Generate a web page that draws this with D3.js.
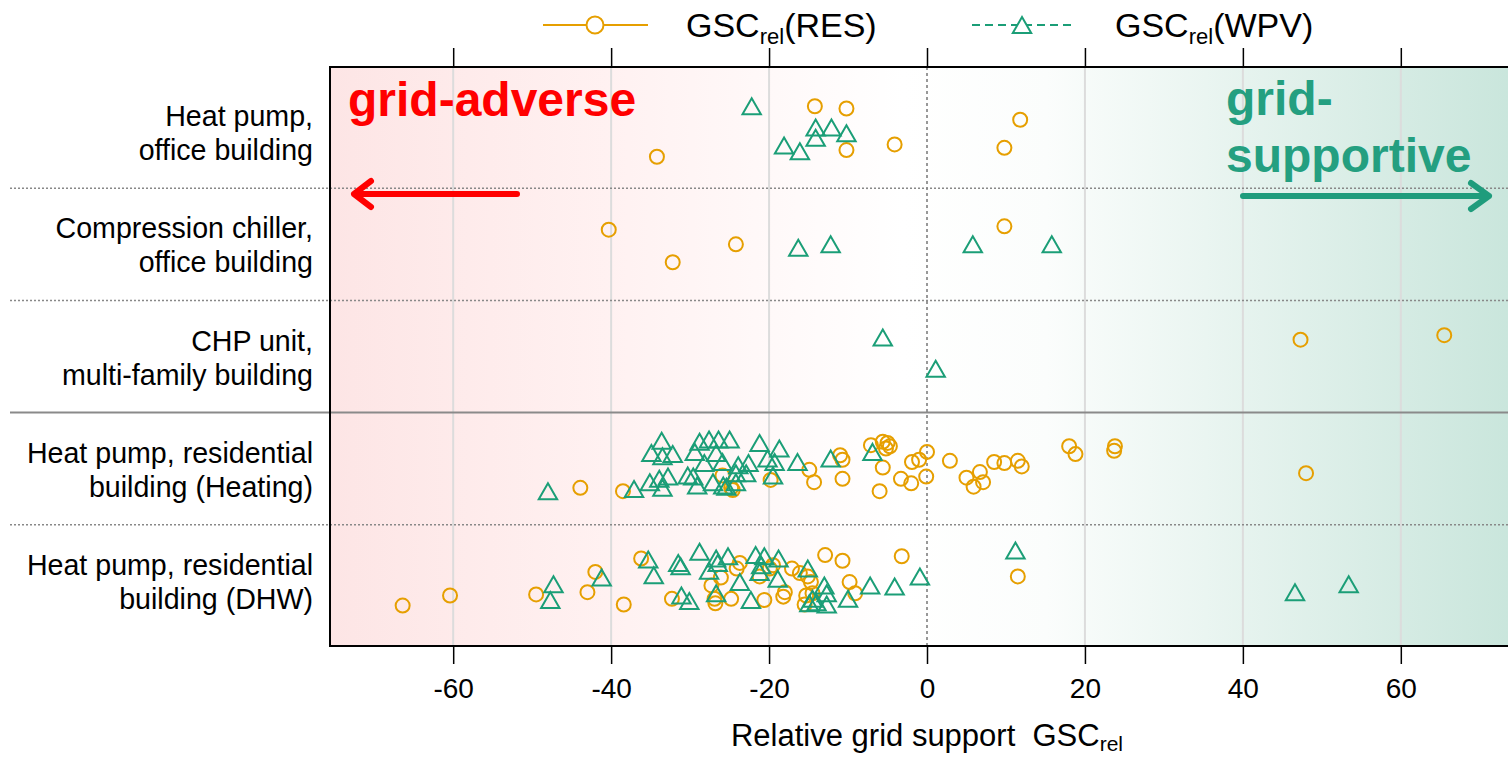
<!DOCTYPE html>
<html>
<head>
<meta charset="utf-8">
<script src="https://cdn.jsdelivr.net/npm/d3@7"></script>
<style>
  body { margin: 0; background: #fff; }
  svg text { font-family: "Liberation Sans", Arial, sans-serif; }
</style>
</head>
<body>
<div id="chart"></div>
<script>
var width = 1508,
    height = 758;

// categories, top to bottom
var categories = [
    ["Heat pump,", "office building"],
    ["Compression chiller,", "office building"],
    ["CHP unit,", "multi-family building"],
    ["Heat pump, residential", "building (Heating)"],
    ["Heat pump, residential", "building (DHW)"]
];

var xTicks = [-60, -40, -20, 0, 20, 40, 60];

// [GSC_rel value, vertical jitter within the row]
var hpOfficeRES = [[-14.2,-0.23],[-10.2,-0.21],[11.8,-0.11],[9.8,0.14],[-4.1,0.11],[-10.2,0.16],[-34.2,0.22]];
var hpOfficeWPV = [[-22.2,-0.23],[-14.1,-0.04],[-12.1,-0.04],[-10.2,0.01],[-14.1,0.05],[-18.1,0.12],[-16.1,0.17]];

var chillerRES = [[-40.3,-0.13],[-24.2,0],[-32.2,0.16],[9.8,-0.16]];
var chillerWPV = [[-16.3,0.03],[-12.2,0],[5.8,0],[15.8,0]];

var chpRES = [[47.3,-0.15],[65.5,-0.19]];
var chpWPV = [[-5.6,-0.17],[1.1,0.11]];

var hpHeatRES = [[-43.9,0.17],[-38.5,0.2],[-25.9,0.06],[-24.6,0.19],[-24.8,0.17],[-19.8,0.1],[-14.9,0.01],
    [-14.3,0.12],[-11.0,-0.12],[-10.7,-0.08],[-10.7,0.09],[-7.1,-0.21],[-5.6,-0.24],[-5.0,-0.23],[-4.7,-0.2],
    [-5.2,-0.18],[-5.6,-0.01],[-6.0,0.2],[-3.3,0.09],[-2.0,0.13],[-1.9,-0.06],[-1.0,-0.08],[0.0,-0.15],
    [-0.1,0.07],[2.9,-0.07],[5.0,0.08],[5.9,0.16],[6.7,0.03],[7.1,0.12],[8.5,-0.06],[9.8,-0.05],[11.5,-0.07],
    [12.0,-0.02],[18.0,-0.2],[18.8,-0.13],[23.8,-0.2],[23.7,-0.16],[48.0,0.04]];
var hpHeatWPV = [[-48.0,0.2],[-37.1,0.18],[-33.6,-0.25],[-34.9,-0.14],[-33.5,-0.11],[-32.2,-0.13],[-35.1,0.12],
    [-33.9,0.09],[-32.8,0.07],[-33.5,0.17],[-28.8,-0.24],[-27.6,-0.26],[-26.4,-0.26],[-25.0,-0.26],[-29.4,-0.15],
    [-26.7,-0.14],[-28.2,-0.05],[-25.9,-0.06],[-30.3,0.06],[-29.6,0.07],[-29.1,0.15],[-27.1,0.12],[-25.8,0.15],
    [-25.4,0.16],[-23.9,-0.03],[-22.6,-0.05],[-24.2,0.04],[-22.9,0.04],[-24.2,0.12],[-21.2,-0.23],[-18.7,-0.18],
    [-20.2,-0.09],[-19.3,-0.06],[-19.5,0.06],[-16.4,-0.06],[-12.2,-0.09],[-6.9,-0.15]];

var hpDhwRES = [[-66.4,0.22],[-60.4,0.13],[-49.5,0.12],[-43.0,0.1],[-42.0,-0.08],[-38.4,0.21],[-36.2,-0.2],
    [-32.3,0.16],[-23.7,-0.16],[-24.1,-0.11],[-26.1,-0.03],[-27.3,0.04],[-26.9,0.16],[-26.8,0.2],[-24.8,0.16],
    [-20.6,0.17],[-21.2,-0.04],[-19.9,-0.11],[-19.5,-0.14],[-17.1,-0.11],[-16.1,-0.07],[-15.1,-0.04],[-14.7,0.01],
    [-18.0,0.1],[-18.2,0.14],[-15.3,0.13],[-15.5,0.21],[-14.5,0.11],[-12.9,-0.23],[-10.7,-0.18],[-9.8,0.01],
    [-9.1,0.11],[-3.2,-0.22],[11.5,-0.04]];
var hpDhwWPV = [[-47.3,0.03],[-47.7,0.17],[-41.2,-0.03],[-35.3,-0.19],[-34.6,-0.05],[-31.5,-0.16],[-31.2,-0.13],
    [-28.8,-0.26],[-31.1,0.13],[-30.1,0.18],[-27.6,-0.09],[-26.7,-0.2],[-26.5,-0.16],[-25.2,-0.22],[-26.7,0.11],
    [-23.7,0.01],[-22.3,0.17],[-21.7,-0.23],[-20.6,-0.22],[-21.2,-0.08],[-21.0,-0.14],[-18.8,-0.2],[-18.9,-0.02],
    [-15.1,-0.11],[-13.0,0.04],[-12.7,0.11],[-14.5,0.16],[-14.0,0.19],[-12.7,0.21],[-14.9,0.2],[-10.0,0.16],
    [-7.2,0.04],[-4.1,0.05],[-0.9,-0.04],[11.2,-0.27],[46.6,0.1],[53.4,0.03]];

var resRows = [hpOfficeRES, chillerRES, chpRES, hpHeatRES, hpDhwRES];
var wpvRows = [hpOfficeWPV, chillerWPV, chpWPV, hpHeatWPV, hpDhwWPV];

var orange = "#e69f00",
    teal = "#1b9e77";

// note: "top" is taken by window.top, so use other names
var plotLeft = 330, plotTop = 67, plotBottom = 646;

var x = d3.scaleLinear().domain([-75.6, 75.6]).range([plotLeft, 1524]);
var y = d3.scaleLinear().domain([0.42, 5.58]).range([plotTop, plotBottom]);

var svg = d3.select("#chart").append("svg")
    .attr("width", width)
    .attr("height", height);

// background gradient: grid-adverse (red) -> grid-supportive (green)
var grad = svg.append("defs").append("linearGradient")
    .attr("id", "bg")
    .attr("x1", "0%").attr("x2", "100%").attr("y1", "0%").attr("y2", "0%");
grad.append("stop").attr("offset", "0%").attr("stop-color", "#fde5e5");
grad.append("stop").attr("offset", "25%").attr("stop-color", "#fff2f2");
grad.append("stop").attr("offset", "48%").attr("stop-color", "#ffffff");
grad.append("stop").attr("offset", "60%").attr("stop-color", "#fbfdfc");
grad.append("stop").attr("offset", "100%").attr("stop-color", "#c8e5db");

svg.append("rect")
    .attr("x", x.range()[0]).attr("y", plotTop)
    .attr("width", x.range()[1] - x.range()[0])
    .attr("height", plotBottom - plotTop)
    .attr("fill", "url(#bg)");

// vertical grid
svg.selectAll(".vgrid")
    .data(xTicks.filter(function(d) { return d !== 0; }))
    .enter().append("line")
    .attr("x1", x).attr("x2", x)
    .attr("y1", plotTop).attr("y2", plotBottom)
    .attr("stroke", "#dcdcdc").attr("stroke-width", 2);

svg.append("line")
    .attr("x1", x(0)).attr("x2", x(0))
    .attr("y1", plotTop).attr("y2", plotBottom)
    .attr("stroke", "#777").attr("stroke-width", 1.5)
    .attr("stroke-dasharray", "3,3");

// row separators
[1.5, 2.5, 4.5].forEach(function(v) {
    svg.append("line")
        .attr("x1", 10).attr("x2", width)
        .attr("y1", y(v)).attr("y2", y(v))
        .attr("stroke", "#888").attr("stroke-width", 1.5)
        .attr("stroke-dasharray", "2,2");
});
svg.append("line")
    .attr("x1", 10).attr("x2", width)
    .attr("y1", y(3.5)).attr("y2", y(3.5))
    .attr("stroke", "#8a8a8a").attr("stroke-width", 2);

// frame
svg.append("path")
    .attr("d", "M" + width + "," + plotTop + "H" + plotLeft + "V" + plotBottom + "H" + width)
    .attr("fill", "none").attr("stroke", "#000").attr("stroke-width", 2);

// axes
var xAxisBottom = d3.axisBottom(x).tickValues(xTicks).tickSize(18).tickPadding(14);
var gb = svg.append("g").attr("transform", "translate(0," + plotBottom + ")").call(xAxisBottom);
gb.select(".domain").remove();
gb.selectAll("line").attr("stroke", "#000").attr("stroke-width", 1.5);
gb.selectAll("text").attr("font-size", 28).attr("fill", "#000")
    .style("font-family", "'Liberation Sans', Arial, sans-serif")
    .text(function(d) { return d < 0 ? "-" + Math.abs(d) : d; });

var xAxisTop = d3.axisTop(x).tickValues(xTicks).tickSize(19).tickFormat("");
var gt = svg.append("g").attr("transform", "translate(0," + plotTop + ")").call(xAxisTop);
gt.select(".domain").remove();
gt.selectAll("line").attr("stroke", "#000").attr("stroke-width", 1.5);

// axis title
var title = svg.append("text")
    .attr("x", x(0)).attr("y", 746)
    .attr("text-anchor", "middle")
    .attr("font-size", 31);
title.append("tspan").text("Relative grid support\u00a0\u00a0GSC");
title.append("tspan").attr("font-size", 21).attr("dy", 5).text("rel");

// category labels
categories.forEach(function(c, i) {
    var t = svg.append("text")
        .attr("text-anchor", "end")
        .attr("font-size", 28.6);
    t.append("tspan").attr("x", 313).attr("y", y(i + 1) - 6).text(c[0]);
    t.append("tspan").attr("x", 313).attr("y", y(i + 1) + 28).text(c[1]);
});

// grid-adverse / grid-supportive annotations
svg.append("text")
    .attr("x", 348).attr("y", 116)
    .attr("font-size", 48).attr("font-weight", "bold")
    .attr("fill", "#ff0000")
    .text("grid-adverse");

var sup = svg.append("text")
    .attr("font-size", 48).attr("font-weight", "bold")
    .attr("fill", "#249f80");
sup.append("tspan").attr("x", 1226).attr("y", 115).text("grid-");
sup.append("tspan").attr("x", 1226).attr("y", 172).text("supportive");

svg.append("path")
    .attr("d", "M517,194H354M371,181L354,194L371,207")
    .attr("fill", "none").attr("stroke", "#ff0000")
    .attr("stroke-width", 6).attr("stroke-linecap", "round").attr("stroke-linejoin", "round");

svg.append("path")
    .attr("d", "M1243,196H1489M1471,183L1489,196L1471,209")
    .attr("fill", "none").attr("stroke", "#1f9c7c")
    .attr("stroke-width", 6).attr("stroke-linecap", "round").attr("stroke-linejoin", "round");

// points
var tri = "M0,-8L9.2,8L-9.2,8Z";

resRows.forEach(function(rows, i) {
    svg.append("g").selectAll("circle")
        .data(rows)
        .enter().append("circle")
        .attr("cx", function(d) { return x(d[0]); })
        .attr("cy", function(d) { return y(i + 1 + d[1]); })
        .attr("r", 7)
        .attr("fill", "none")
        .attr("stroke", orange)
        .attr("stroke-width", 2);
});

wpvRows.forEach(function(rows, i) {
    svg.append("g").selectAll("path")
        .data(rows)
        .enter().append("path")
        .attr("d", tri)
        .attr("transform", function(d) {
            return "translate(" + x(d[0]) + "," + y(i + 1 + d[1]) + ")";
        })
        .attr("fill", "none")
        .attr("stroke", teal)
        .attr("stroke-width", 2);
});

// legend
var lg = svg.append("g");
lg.append("line").attr("x1", 543).attr("x2", 648).attr("y1", 25).attr("y2", 25)
    .attr("stroke", orange).attr("stroke-width", 2);
lg.append("circle").attr("cx", 595).attr("cy", 25).attr("r", 8.5)
    .attr("fill", "#fff").attr("stroke", orange).attr("stroke-width", 2);
var l1 = lg.append("text").attr("x", 686).attr("y", 37).attr("font-size", 34);
l1.append("tspan").text("GSC");
l1.append("tspan").attr("font-size", 22).attr("dy", 7).text("rel");
l1.append("tspan").attr("dy", -7).text("(RES)");

lg.append("line").attr("x1", 972).attr("x2", 1075).attr("y1", 25).attr("y2", 25)
    .attr("stroke", teal).attr("stroke-width", 2).attr("stroke-dasharray", "8,5");
lg.append("path").attr("d", tri).attr("transform", "translate(1022,25)")
    .attr("fill", "#fff").attr("stroke", teal).attr("stroke-width", 2);
var l2 = lg.append("text").attr("x", 1115).attr("y", 37).attr("font-size", 34);
l2.append("tspan").text("GSC");
l2.append("tspan").attr("font-size", 22).attr("dy", 7).text("rel");
l2.append("tspan").attr("dy", -7).text("(WPV)");
</script>
</body>
</html>
